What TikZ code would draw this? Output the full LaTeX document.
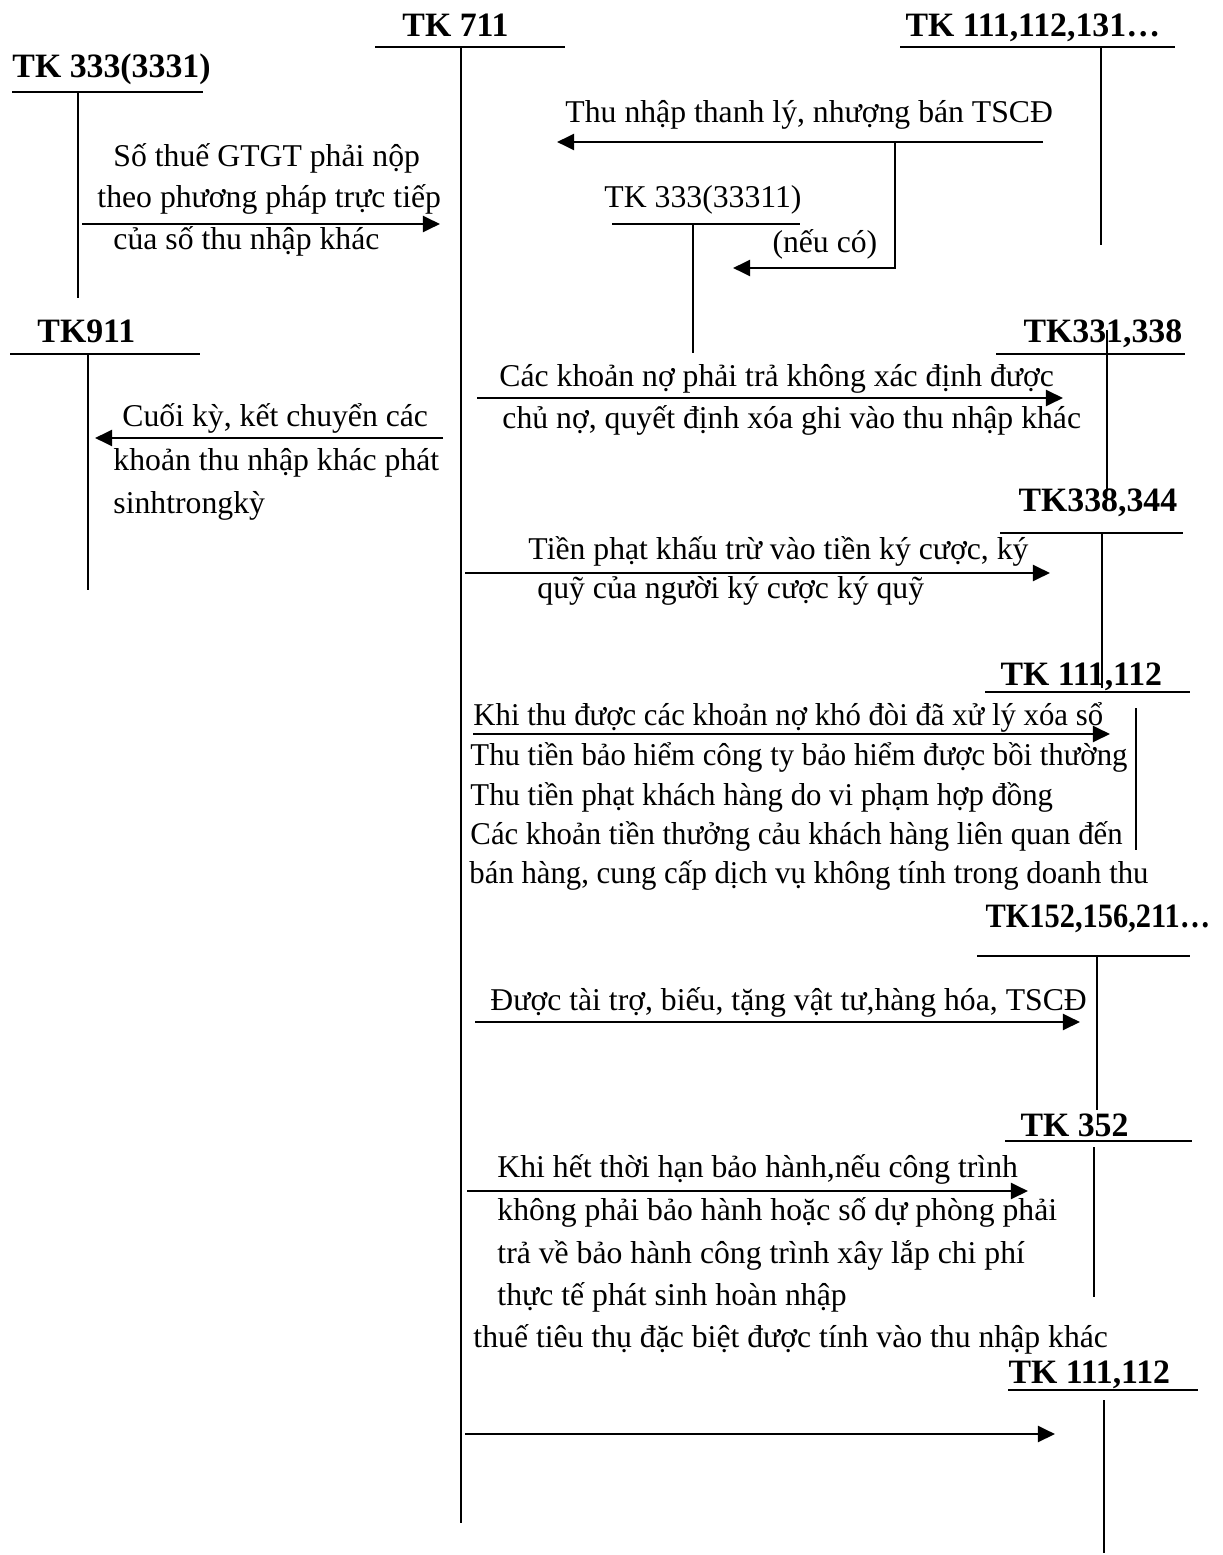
\documentclass[tikz,border=0pt]{standalone}
\usepackage{fontspec}
\setmainfont{Liberation Serif}[BoldFeatures={FakeStretch=0.99}]
\newfontfamily\narrowfont{Liberation Serif}[FakeStretch=0.97]
\usetikzlibrary{positioning, arrows.meta}
\tikzset{
  txt/.style={anchor=base west, inner sep=0pt, font=\fontsize{13}{16}\selectfont},
  txt narrow/.style={txt, font=\fontsize{13}{16}\narrowfont},
  acct/.style={anchor=base west, inner sep=0pt, font=\fontsize{14}{16}\selectfont\bfseries},
  tline/.style={line width=0.75pt},
  arr/.style={-{Triangle[length=7pt, width=6.5pt]}, line width=1.1pt},
}
\begin{document}
\begin{tikzpicture}[x=0.41pt, y=-0.41pt]
    \useasboundingbox (0,0) rectangle (1222,1555);

    % accounts
    \node[acct] (tk711) at (402,37) {TK 711};
    \draw[tline] (375,47) -- (565,47);
    \draw[tline] (461,47) -- (461,1523);
    \node[acct] (tk111a) at (905,37) {TK 111,112,131…};
    \draw[tline] (900,47) -- (1175,47);
    \draw[tline] (1101,47) -- (1101,245);
    \node[acct] (tk3331) at (12,78) {TK 333(3331)};
    \draw[tline] (12,92) -- (203,92);
    \draw[tline] (78,92) -- (78,298);
    \node[acct] (tk911) at (37,343) {TK911};
    \draw[tline] (10,354) -- (200,354);
    \draw[tline] (88,354) -- (88,590);
    \node[txt] (tk33311) at (604,208) {TK 333(33311)};
    \draw[tline] (612,224) -- (800,224);
    \draw[tline] (693,224) -- (693,353);
    \node[acct] (tk331) at (1023,343) {TK331,338};
    \draw[tline] (996,354) -- (1185,354);
    \draw[tline] (1107,330) -- (1107,490);
    \node[acct] (tk338) at (1018,512) {TK338,344};
    \draw[tline] (1000,533) -- (1183,533);
    \draw[tline] (1102,533) -- (1102,688);
    \node[acct] (tk111b) at (1000,685) {TK 111,112};
    \draw[tline] (985,692) -- (1190,692);
    \draw[tline] (1136,708) -- (1136,850);
    \node[acct] (tk152) at (985,927) {\scalebox{0.9}[1]{TK152,156,211…}};
    \draw[tline] (977,956) -- (1190,956);
    \draw[tline] (1097,956) -- (1097,1110);
    \node[acct] (tk352) at (1020,1136) {TK 352};
    \draw[tline] (1005,1141) -- (1192,1141);
    \draw[tline] (1094,1147) -- (1094,1297);
    \node[acct] (tk111c) at (1008,1383) {TK 111,112};
    \draw[tline] (1008,1390) -- (1198,1390);
    \draw[tline] (1104,1400) -- (1104,1553);

    % arrow ends
    \coordinate (gtgt_from) at (82,224);
    \coordinate (gtgt_to) at (440,224);
    \coordinate (tl_from) at (1043,142);
    \coordinate (tl_to) at (557,142);
    \coordinate (tl_split) at (895,142);
    \coordinate (tl_bend) at (895,268);
    \coordinate (vat_to) at (733,268);
    \coordinate (kc_from) at (443,438);
    \coordinate (kc_to) at (95,438);
    \coordinate (no_from) at (477,398);
    \coordinate (no_to) at (1063,398);
    \coordinate (phat_from) at (465,573);
    \coordinate (phat_to) at (1050,573);
    \coordinate (thu_from) at (473,734);
    \coordinate (thu_to) at (1110,734);
    \coordinate (tt_from) at (475,1022);
    \coordinate (tt_to) at (1080,1022);
    \coordinate (bh_from) at (467,1191);
    \coordinate (bh_to) at (1028,1191);
    \coordinate (tien_from) at (465,1434);
    \coordinate (tien_to) at (1055,1434);

    % entries
    \draw[arr] (gtgt_from) -- (gtgt_to);
    \node[txt] (gtgt1) at (113,167) {Số thuế GTGT phải nộp};
    \node[txt] (gtgt2) at (97,208) {theo phương pháp trực tiếp};
    \node[txt] (gtgt3) at (113,250) {của số thu nhập khác};

    \draw[arr] (tl_from) -- (tl_to);
    \draw[arr] (tl_split) -- (tl_bend) -- (vat_to);
    \node[txt] (tl1) at (565,123) {Thu nhập thanh lý, nhượng bán TSCĐ};
    \node[txt] (vat1) at (772,253) {(nếu có)};

    \draw[arr] (kc_from) -- (kc_to);
    \node[txt] (kc1) at (122,427) {Cuối kỳ, kết chuyển các};
    \node[txt] (kc2) at (113,471) {khoản thu nhập khác phát};
    \node[txt] (kc3) at (113,513) {sinhtrongkỳ};

    \draw[arr] (no_from) -- (no_to);
    \node[txt] (no1) at (499,387) {Các khoản nợ phải trả không xác định được};
    \node[txt] (no2) at (502,429) {chủ nợ, quyết định xóa ghi vào thu nhập khác};

    \draw[arr] (phat_from) -- (phat_to);
    \node[txt] (phat1) at (528,559) {Tiền phạt khấu trừ vào tiền ký cược, ký};
    \node[txt] (phat2) at (537,598) {quỹ của người ký cược ký quỹ};

    \draw[arr] (thu_from) -- (thu_to);
    \node[txt narrow] (thu1) at (473,725) {Khi thu được các khoản nợ khó đòi đã xử lý xóa sổ};
    \node[txt narrow] (thu2) at (470,765) {Thu tiền bảo hiểm công ty bảo hiểm được bồi thường};
    \node[txt narrow] (thu3) at (470,805) {Thu tiền phạt khách hàng do vi phạm hợp đồng};
    \node[txt narrow] (thu4) at (470,844) {Các khoản tiền thưởng cảu khách hàng liên quan đến};
    \node[txt narrow] (thu5) at (469,883) {bán hàng, cung cấp dịch vụ không tính trong doanh thu};

    \draw[arr] (tt_from) -- (tt_to);
    \node[txt] (tt1) at (490,1010) {Được tài trợ, biếu, tặng vật tư,hàng hóa, TSCĐ};

    \draw[arr] (bh_from) -- (bh_to);
    \node[txt] (bh1) at (497,1177) {Khi hết thời hạn bảo hành,nếu công trình};
    \node[txt] (bh2) at (497,1220) {không phải bảo hành hoặc số dự phòng phải};
    \node[txt] (bh3) at (497,1263) {trả về bảo hành công trình xây lắp chi phí};
    \node[txt] (bh4) at (497,1305) {thực tế phát sinh hoàn nhập};
    \node[txt] (ttdb1) at (473,1347) {thuế tiêu thụ đặc biệt được tính vào thu nhập khác};

    \draw[arr] (tien_from) -- (tien_to);
\end{tikzpicture}
\end{document}
